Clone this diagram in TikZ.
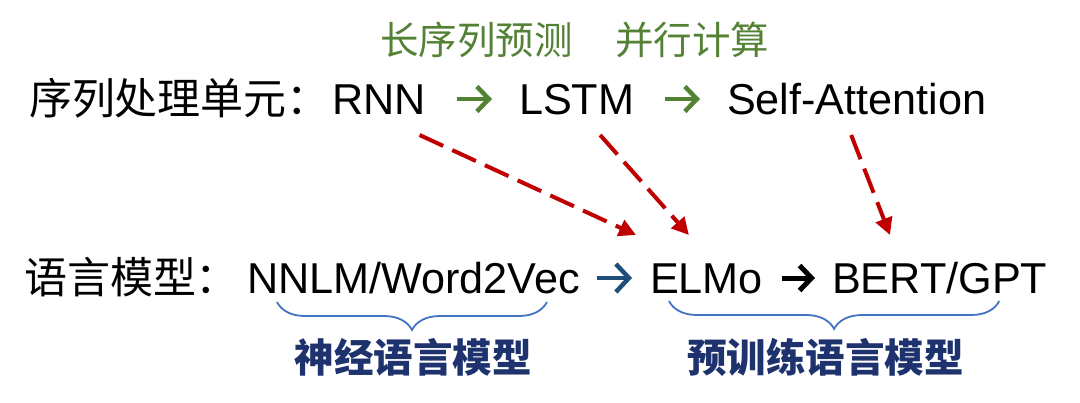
\documentclass[tikz,border=0pt]{standalone}
\usepackage{fontspec}
\setmainfont{Liberation Sans}
\newfontfamily\cjk{Noto Sans CJK SC}
\usetikzlibrary{arrows.meta,decorations.pathreplacing}
\definecolor{tgreen}{HTML}{548235}
\definecolor{tred}{HTML}{C00000}
\definecolor{tdblue}{HTML}{1F4E79}
\definecolor{tbrace}{HTML}{4472C4}
\definecolor{tnavy}{RGB}{30,50,110}
\tikzset{
  txt/.style={inner sep=0pt, outer sep=0pt, anchor=base west, text height=30pt, text depth=0pt,
    font=\fontsize{43.2}{50}\selectfont},
  cjktxt/.style={txt, font=\fontsize{43}{50}\selectfont\cjk},
  greentxt/.style={inner sep=0pt, anchor=base west, text=tgreen, font=\fontsize{38.5}{46}\selectfont\cjk},
  navytxt/.style={inner sep=0pt, anchor=base, text=tnavy, font=\fontsize{39.5}{46}\selectfont\cjk\bfseries},
  inarrow/.style={line width=4.5pt, -{Straight Barb[length=12pt,width=25pt]}},
  garr/.style={inarrow, draw=tgreen},
  barr/.style={inarrow, draw=tdblue, -{Straight Barb[length=13pt,width=28pt]}},
  karr/.style={inarrow, draw=black, line width=5pt},
  redarr/.style={draw=tred, line width=4pt, dash pattern=on 26pt off 10pt, -{Triangle[length=17pt,width=17pt]}},
  bracestyle/.style={draw=tbrace, line width=1.8pt, decorate, decoration={brace, mirror, amplitude=28pt}}
}
\begin{document}
\begin{tikzpicture}[x=1pt,y=-1pt]
\path[use as bounding box, fill=white] (0,0) rectangle (1080,402);
% green annotations
\node[greentxt] (g1) at (380,54) {长序列预测};
\node[greentxt] (g2) at (615,54) {并行计算};
% top row
\node[cjktxt] (lbl1) at (29,114) {序列处理单元：};
\node[txt] (rnn) at (332,114) {RNN};
\node[txt] (lstm) at (519,114) {LSTM};
\node[txt] (sa) at (727,114) {Self-Attention};
% bottom row
\node[cjktxt] (lbl2) at (24,293) {语言模型：};
\node[txt] (nnlm) at (247,293) {NNLM/Word2Vec};
\node[txt] (elmo) at (650,293) {ELMo};
\node[txt] (bert) at (832,293) {BERT/GPT};
% inline arrows
\draw[garr, shorten <=31pt, shorten >=27pt] (rnn) -- (lstm);
\draw[garr, shorten <=31pt, shorten >=27pt] (lstm) -- (sa);
\draw[barr, shorten <=17pt, shorten >=18pt] (nnlm) -- (elmo);
\draw[karr, shorten <=19pt, shorten >=17pt] (elmo) -- (bert);
% red dashed arrows
\draw[redarr] ([xshift=-6pt,yshift=-21pt]rnn.south east) -- ([xshift=-14pt,yshift=28pt]elmo.north west);
\draw[redarr] ([xshift=23.5pt,yshift=-21pt]lstm.south) -- ([xshift=-17.5pt,yshift=28pt]elmo.north);
\draw[redarr] ([xshift=-5.5pt,yshift=-21pt]sa.south) -- ([xshift=58pt,yshift=28pt]bert.north west);
% braces
\draw[bracestyle] ([xshift=30pt,yshift=-9pt]nnlm.south west) -- ([xshift=-33pt,yshift=-9pt]nnlm.south east);
\draw[bracestyle] ([xshift=19pt,yshift=-8pt]elmo.south west) -- ([xshift=-48pt,yshift=-8pt]bert.south east);
% brace labels
\node[navytxt] (nlm) at (413,372) {神经语言模型};
\node[navytxt] (plm) at (825.5,372) {预训练语言模型};
\end{tikzpicture}
\end{document}
